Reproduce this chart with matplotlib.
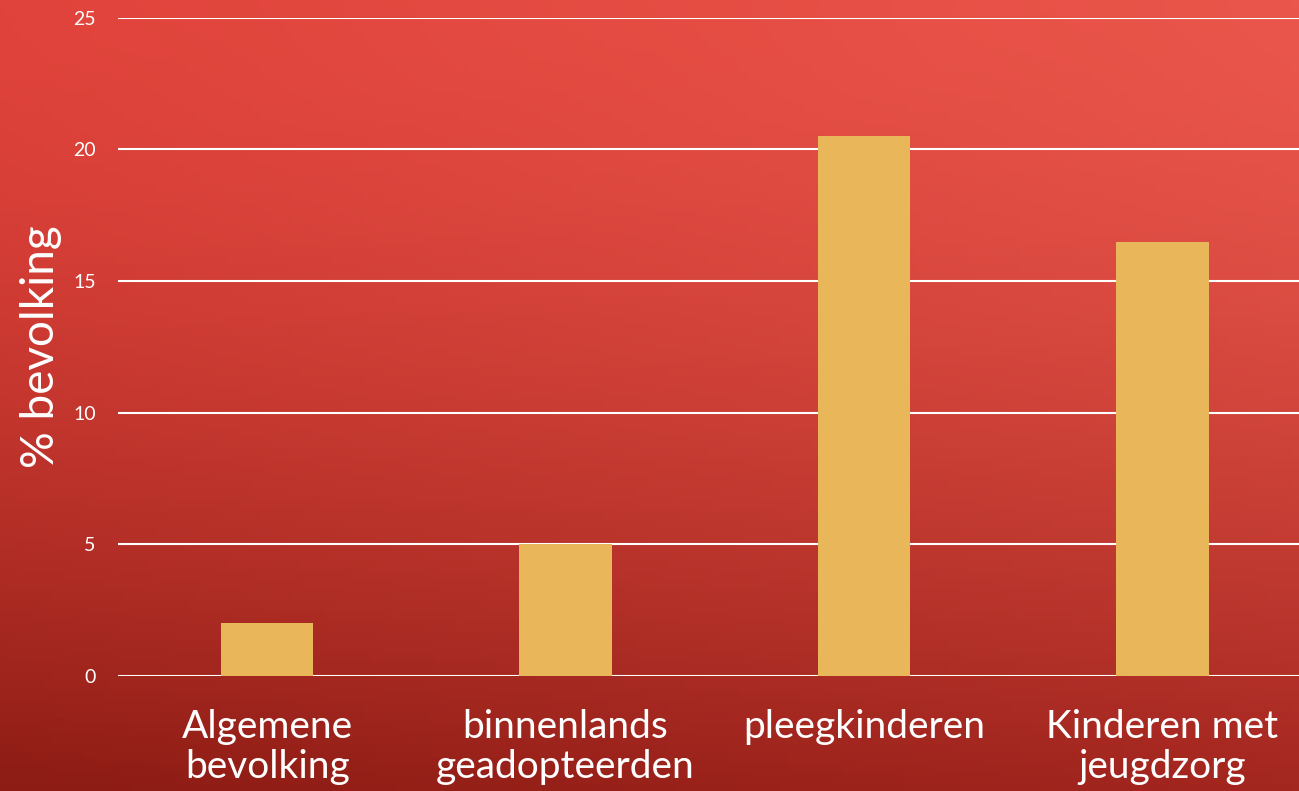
import numpy as np
import matplotlib.pyplot as plt
from matplotlib.colors import to_rgb

categories = ["Algemene\nbevolking", "binnenlands\ngeadopteerden", "pleegkinderen", "Kinderen met\njeugdzorg"]
values = [2, 5, 20.5, 16.5]
yticks = [0, 5, 10, 15, 20, 25]

plt.rcParams['font.family'] = ['Lato', 'DejaVu Sans']

fig = plt.figure(figsize=(12.99, 7.91), dpi=100)

# red gradient background
bg = fig.add_axes([0, 0, 1, 1], zorder=0)
tl, tr = np.array(to_rgb('#E0433B')), np.array(to_rgb('#EA564B'))
bl, br = np.array(to_rgb('#8C1C14')), np.array(to_rgb('#A3261F'))
u = np.linspace(0, 1, 200)[None, :, None]
v = np.linspace(0, 1, 120)[:, None, None]
v2 = v ** 1.6
img = (1 - v2) * ((1 - u) * tl + u * tr) + v2 * ((1 - u) * bl + u * br)
bg.imshow(img, aspect='auto', extent=[0, 1, 0, 1])
bg.axis('off')

ax = fig.add_axes([0.0908, 0.1454, 0.919, 0.832], zorder=1)
ax.patch.set_alpha(0)
x = np.arange(len(categories))
ax.bar(x, values, width=0.31, color='#E9B65A', zorder=2)
ax.set_xlim(-0.5, len(categories) - 0.5)
ax.set_ylim(0, 25)
ax.set_yticks(yticks)
ax.yaxis.grid(True, color='white', linewidth=1.5)
ax.set_axisbelow(True)
for s in ax.spines.values():
    s.set_visible(False)
ax.tick_params(axis='y', length=0, pad=16, labelcolor='white', labelsize=14)
ax.tick_params(axis='x', length=0, pad=24, labelcolor='white', labelsize=28)
ax.set_xticks(x)
ax.set_xticklabels(categories, linespacing=1.12)

# y axis title
fig.text(0.0316, 0.5613, '% bevolking', color='white', fontsize=33,
         rotation=90, ha='center', va='center')

fig.savefig('out.png', dpi=100)
